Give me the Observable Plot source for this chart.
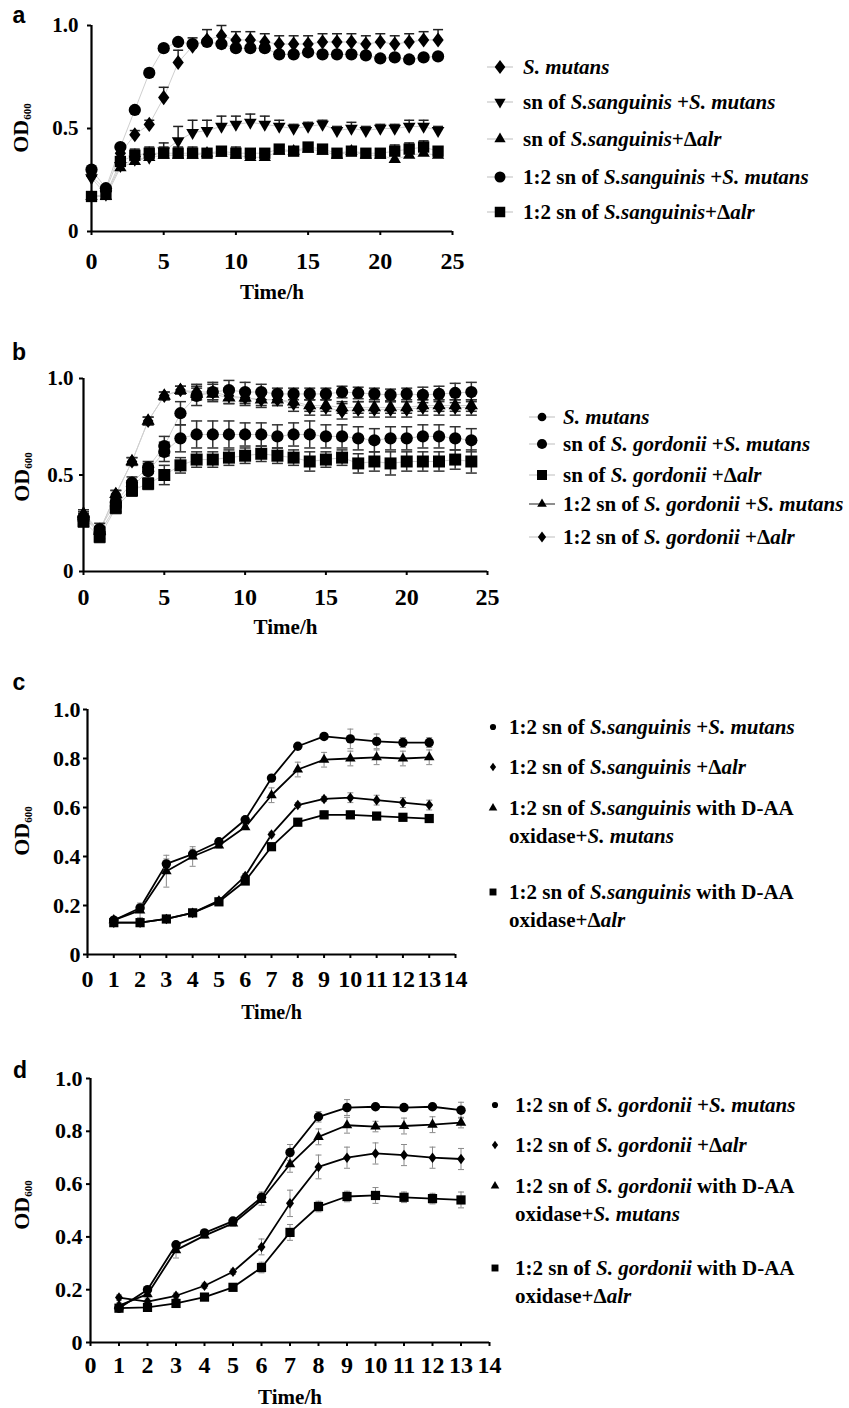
<!DOCTYPE html>
<html><head><meta charset="utf-8">
<script src="https://cdn.jsdelivr.net/npm/d3@7"></script>
<script src="https://cdn.jsdelivr.net/npm/@observablehq/plot@0.6"></script>
<style>
body{margin:0;background:#fff;}
#root{position:relative;width:849px;height:1408px;font-family:"Liberation Serif","Times New Roman",serif;font-weight:bold;color:#000;overflow:hidden;}
.panel{position:absolute;left:0;}
.letter{position:absolute;font-family:"Liberation Sans",Arial,sans-serif;font-weight:bold;font-size:23px;transform:translate(-50%,-50%);line-height:1;}
.ylab{position:absolute;transform:translate(-50%,-50%) rotate(-90deg);font-size:22px;white-space:nowrap;line-height:1;}
.ylab sub{font-size:11px;vertical-align:-3px;}
.legtext{position:absolute;white-space:nowrap;}
.legmark{position:absolute;}
</style></head><body><div id="root"></div>
<script>
// ---------- data ----------
const hoursAB = [0,1,2,3,4,5,6,7,8,9,10,11,12,13,14,15,16,17,18,19,20,21,22,23,24];
const hoursCD = [1,2,3,4,5,6,7,8,9,10,11,12,13];

// panel a
const aSmutans      = [0.27,0.20,0.38,0.47,0.52,0.65,0.82,0.90,0.93,0.95,0.93,0.93,0.92,0.91,0.91,0.91,0.92,0.92,0.92,0.91,0.92,0.91,0.92,0.93,0.93];
const aSmutansErr   = [0.02,0.02,0.02,0.02,0.02,0.05,0.06,0.04,0.05,0.05,0.04,0.04,0.04,0.04,0.04,0.04,0.04,0.04,0.04,0.04,0.04,0.04,0.04,0.04,0.05];
const aSnSm         = [0.26,0.18,0.32,0.35,0.36,0.39,0.44,0.48,0.49,0.51,0.52,0.53,0.52,0.51,0.50,0.51,0.52,0.49,0.50,0.49,0.50,0.50,0.51,0.51,0.49];
const aSnSmErr      = [0.02,0.02,0.02,0.03,0.03,0.04,0.07,0.06,0.05,0.05,0.04,0.04,0.04,0.03,0.02,0.02,0.02,0.02,0.03,0.02,0.02,0.02,0.03,0.03,0.02];
const aSnAlr        = [0.17,0.17,0.31,0.34,0.36,0.37,0.37,0.37,0.38,0.38,0.37,0.36,0.36,0.39,0.39,0.40,0.39,0.37,0.39,0.37,0.37,0.35,0.37,0.38,0.37];
const aSnAlrErr     = [0.02,0.02,0.02,0.02,0.02,0.02,0.02,0.02,0.02,0.02,0.02,0.02,0.02,0.02,0.02,0.02,0.02,0.02,0.02,0.02,0.02,0.02,0.02,0.02,0.02];
const a12Sm         = [0.30,0.21,0.41,0.59,0.77,0.89,0.92,0.91,0.92,0.91,0.89,0.89,0.89,0.86,0.86,0.87,0.86,0.86,0.86,0.855,0.84,0.845,0.835,0.845,0.85];
const a12SmErr      = [0.01,0.01,0.01,0.01,0.01,0.01,0.01,0.01,0.01,0.01,0.01,0.01,0.01,0.01,0.01,0.01,0.01,0.01,0.01,0.01,0.01,0.01,0.01,0.01,0.01];
const a12Alr        = [0.17,0.18,0.34,0.37,0.38,0.38,0.38,0.38,0.38,0.39,0.38,0.38,0.38,0.40,0.39,0.41,0.40,0.38,0.39,0.38,0.38,0.39,0.40,0.41,0.39];
const a12AlrErr     = [0.02,0.02,0.02,0.03,0.03,0.03,0.03,0.03,0.02,0.02,0.03,0.02,0.02,0.02,0.02,0.02,0.02,0.02,0.02,0.02,0.02,0.03,0.03,0.03,0.02];

// panel b
const bSmutans      = [0.27,0.22,0.36,0.46,0.54,0.65,0.82,0.91,0.93,0.94,0.93,0.93,0.92,0.92,0.92,0.92,0.93,0.925,0.92,0.915,0.92,0.915,0.92,0.925,0.93];
const bSmutansErr   = [0.03,0.03,0.03,0.03,0.03,0.05,0.06,0.05,0.05,0.05,0.05,0.04,0.03,0.03,0.03,0.03,0.03,0.03,0.03,0.03,0.03,0.04,0.04,0.05,0.05];
const bSnSm         = [0.28,0.20,0.34,0.44,0.52,0.62,0.69,0.71,0.71,0.71,0.71,0.71,0.70,0.71,0.71,0.70,0.70,0.69,0.68,0.69,0.69,0.70,0.70,0.69,0.68];
const bSnSmErr      = [0.03,0.03,0.03,0.03,0.04,0.05,0.07,0.07,0.07,0.07,0.06,0.06,0.06,0.06,0.07,0.06,0.06,0.06,0.06,0.06,0.06,0.06,0.06,0.06,0.06];
const bSnAlr        = [0.26,0.18,0.33,0.42,0.455,0.50,0.55,0.58,0.58,0.59,0.60,0.61,0.60,0.59,0.57,0.58,0.59,0.56,0.57,0.56,0.57,0.57,0.57,0.58,0.57];
const bSnAlrErr     = [0.03,0.03,0.03,0.03,0.03,0.05,0.04,0.04,0.04,0.04,0.04,0.04,0.04,0.04,0.05,0.04,0.04,0.05,0.05,0.06,0.05,0.05,0.05,0.05,0.06];
const b12Sm         = [0.30,0.21,0.40,0.57,0.78,0.91,0.94,0.92,0.92,0.90,0.90,0.89,0.89,0.88,0.86,0.86,0.85,0.85,0.85,0.85,0.85,0.86,0.86,0.86,0.86];
const b12SmErr      = [0.02,0.02,0.02,0.02,0.02,0.02,0.02,0.03,0.03,0.03,0.03,0.03,0.03,0.03,0.03,0.03,0.03,0.03,0.03,0.03,0.03,0.03,0.03,0.03,0.03];
const b12Alr        = [0.29,0.21,0.40,0.57,0.78,0.91,0.94,0.93,0.93,0.91,0.90,0.89,0.89,0.87,0.85,0.85,0.83,0.84,0.84,0.84,0.84,0.85,0.85,0.85,0.85];
const b12AlrErr     = [0.02,0.02,0.02,0.02,0.02,0.02,0.02,0.04,0.04,0.04,0.04,0.04,0.03,0.04,0.04,0.04,0.04,0.04,0.04,0.04,0.04,0.04,0.04,0.04,0.04];

// panel c
const cSm       = [0.14,0.19,0.37,0.41,0.46,0.55,0.72,0.85,0.89,0.88,0.87,0.865,0.865];
const cSmErr    = [0.01,0.01,0.02,0.02,0.01,0.01,0.01,0.01,0.01,0.04,0.03,0.02,0.02];
const cAlr      = [0.13,0.13,0.145,0.17,0.22,0.32,0.49,0.61,0.635,0.64,0.63,0.62,0.61];
const cAlrErr   = [0.01,0.01,0.01,0.01,0.01,0.01,0.01,0.01,0.01,0.02,0.02,0.02,0.02];
const cOxSm     = [0.14,0.18,0.34,0.40,0.445,0.52,0.65,0.755,0.795,0.80,0.805,0.80,0.805];
const cOxSmErr  = [0.01,0.03,0.065,0.04,0.01,0.01,0.03,0.03,0.03,0.03,0.03,0.03,0.03];
const cOxAlr    = [0.13,0.13,0.145,0.17,0.215,0.30,0.44,0.54,0.57,0.57,0.565,0.56,0.555];
const cOxAlrErr = [0.01,0.01,0.01,0.01,0.01,0.01,0.01,0.01,0.015,0.015,0.01,0.01,0.01];

// panel d
const dSm       = [0.13,0.20,0.37,0.415,0.46,0.55,0.72,0.855,0.89,0.893,0.89,0.893,0.88];
const dSmErr    = [0.01,0.01,0.01,0.01,0.01,0.02,0.03,0.02,0.03,0.01,0.01,0.01,0.03];
const dAlr      = [0.17,0.155,0.177,0.215,0.268,0.362,0.527,0.665,0.70,0.716,0.71,0.70,0.695];
const dAlrErr   = [0.01,0.01,0.01,0.01,0.01,0.03,0.05,0.045,0.04,0.04,0.04,0.04,0.04];
const dOxSm     = [0.14,0.183,0.35,0.405,0.451,0.54,0.675,0.779,0.823,0.818,0.82,0.825,0.833];
const dOxSmErr  = [0.01,0.01,0.03,0.01,0.01,0.02,0.03,0.03,0.03,0.02,0.03,0.03,0.02];
const dOxAlr    = [0.13,0.133,0.148,0.172,0.209,0.284,0.417,0.515,0.553,0.557,0.55,0.545,0.54];
const dOxAlrErr = [0.01,0.01,0.01,0.01,0.01,0.02,0.03,0.02,0.02,0.03,0.02,0.02,0.03];

// tick values and labels
const xTicksAB = [0,5,10,15,20,25];
const xTicksCD = [0,1,2,3,4,5,6,7,8,9,10,11,12,13,14];
const yTicksAB = [0,0.5,1];
const yTicksCD = [0,0.2,0.4,0.6,0.8,1];

const legendA = ["<i>S. mutans</i>", "sn of <i>S.sanguinis</i> +<i>S. mutans</i>", "sn of <i>S.sanguinis</i>+Δ<i>alr</i>", "1:2 sn of <i>S.sanguinis</i> +<i>S. mutans</i>", "1:2 sn of <i>S.sanguinis</i>+Δ<i>alr</i>"];
const legendB = ["<i>S. mutans</i>", "sn of <i>S. gordonii</i> +<i>S. mutans</i>", "sn of <i>S. gordonii</i> +Δ<i>alr</i>", "1:2 sn of <i>S. gordonii</i> +<i>S. mutans</i>", "1:2 sn of <i>S. gordonii</i> +Δ<i>alr</i>"];
const legendC = ["1:2 sn of <i>S.sanguinis</i> +<i>S. mutans</i>", "1:2 sn of <i>S.sanguinis</i> +Δ<i>alr</i>", "1:2 sn of <i>S.sanguinis</i> with D-AA<br>oxidase+<i>S. mutans</i>", "1:2 sn of <i>S.sanguinis</i> with D-AA<br>oxidase+Δ<i>alr</i>"];
const legendD = ["1:2 sn of <i>S. gordonii</i> +<i>S. mutans</i>", "1:2 sn of <i>S. gordonii</i> +Δ<i>alr</i>", "1:2 sn of <i>S. gordonii</i> with D-AA<br>oxidase+<i>S. mutans</i>", "1:2 sn of <i>S. gordonii</i> with D-AA<br>oxidase+Δ<i>alr</i>"];

// ---------- symbols ----------
const S3 = Math.sqrt(3);
const symDown = {draw(ctx, size){ const y = Math.sqrt(size/(3*S3)); ctx.moveTo(0, 2*y); ctx.lineTo(S3*y, -y); ctx.lineTo(-S3*y, -y); ctx.closePath(); }};
const symUp = {draw(ctx, size){ const y = Math.sqrt(size/(3*S3)); ctx.moveTo(0, -2*y); ctx.lineTo(S3*y, y); ctx.lineTo(-S3*y, y); ctx.closePath(); }};
const symDiamond = {draw(ctx, size){ const h = Math.sqrt(size/1.5), w = 0.75*h; ctx.moveTo(0,-h); ctx.lineTo(w,0); ctx.lineTo(0,h); ctx.lineTo(-w,0); ctx.closePath(); }};
const symCircle = d3.symbolCircle;
const symSquare = d3.symbolSquare;
const symCap = {draw(ctx, size){ const w = Math.sqrt(size/Math.PI); ctx.moveTo(-w,0); ctx.lineTo(w,0); }};

const root = document.getElementById("root");

function makePanel(cfg){
  const rows = [];
  cfg.series.forEach((s,i) => s.values.forEach((v,j) => rows.push({s:i, x:cfg.hours[j], y:v, e:s.err[j]})));
  const marks = [];
  marks.push(Plot.line(rows, {x:"x", y:"y", z:"s", stroke:cfg.lineColor, strokeWidth:cfg.lineWidth}));
  marks.push(Plot.ruleX(rows, {x:"x", y1: d => cfg.upOnly ? d.y : d.y - d.e, y2: d => d.y + d.e, stroke:cfg.errColor, strokeWidth:cfg.errWidth}));
  marks.push(Plot.dot(rows, {x:"x", y: d => d.y + d.e, symbol:symCap, r:cfg.capR, stroke:cfg.errColor, strokeWidth:cfg.errWidth, fill:"none"}));
  if (!cfg.upOnly) marks.push(Plot.dot(rows, {x:"x", y: d => d.y - d.e, symbol:symCap, r:cfg.capR, stroke:cfg.errColor, strokeWidth:cfg.errWidth, fill:"none"}));
  cfg.series.forEach((s,i) => marks.push(Plot.dot(rows.filter(r => r.s === i), {x:"x", y:"y", symbol:s.sym, r:Math.sqrt(s.size/Math.PI), fill:"#000", stroke:"none"})));
  marks.push(Plot.ruleX([cfg.xDomain[0]], {stroke:"#000", strokeWidth:2.2}));
  marks.push(Plot.ruleY([0], {stroke:"#000", strokeWidth:2.2}));
  marks.push(Plot.axisX({ticks:cfg.xTicks, tickSize:4, tickPadding:cfg.xPad, fontSize:cfg.xFont, strokeWidth:2, tickFormat:d => String(d), label:null}));
  marks.push(Plot.axisY({ticks:cfg.yTicks, tickSize:4, tickPadding:cfg.yPad, fontSize:cfg.yFont, strokeWidth:2, tickFormat:d => d === 0 ? "0" : d.toFixed(1), label:null}));
  marks.push(Plot.text(["Time/h"], {frameAnchor:"bottom", dy:cfg.timeDy, fontSize:cfg.timeFont, fontWeight:"bold"}));
  const svg = Plot.plot({
    width:cfg.width, height:cfg.height,
    marginTop:cfg.mt, marginBottom:cfg.mb, marginLeft:cfg.ml, marginRight:cfg.mr,
    x:{domain:cfg.xDomain}, y:{domain:[0,1]},
    style:{fontFamily:"'Liberation Serif','Times New Roman',serif", fontWeight:"bold", fontSize:"20px", background:"none", color:"#000", overflow:"visible"},
    marks
  });
  const wrap = document.createElement("div");
  wrap.className = "panel";
  wrap.style.top = cfg.top + "px";
  wrap.appendChild(svg);
  root.appendChild(wrap);

  const L = document.createElement("div");
  L.className = "letter"; L.textContent = cfg.letter;
  L.style.left = cfg.letterPos[0] + "px"; L.style.top = cfg.letterPos[1] + "px";
  root.appendChild(L);
  const Y = document.createElement("div");
  Y.className = "ylab"; Y.innerHTML = "OD<sub>600</sub>";
  Y.style.left = cfg.ylabPos[0] + "px"; Y.style.top = cfg.ylabPos[1] + "px";
  root.appendChild(Y);

  const lg = cfg.legend;
  lg.labels.forEach((html, i) => {
    const s = cfg.series[i];
    const cy = lg.ys[i];
    const m = d3.create("svg").attr("width", 30).attr("height", 20).attr("class", "legmark")
      .style("left", (lg.mx - 15) + "px").style("top", (cy - 10) + "px");
    if (lg.stub) m.append("line").attr("x1", 2).attr("x2", 28).attr("y1", 10).attr("y2", 10)
      .attr("stroke", (lg.stubDark && lg.stubDark[i]) ? "#444" : "#c8c8c8").attr("stroke-width", 1.2);
    m.append("path").attr("transform", "translate(15,10)").attr("d", d3.symbol(s.sym, lg.sizes[i])()).attr("fill", "#000");
    root.appendChild(m.node());
    const t = document.createElement("div");
    t.className = "legtext"; t.innerHTML = html;
    t.style.left = lg.tx + "px";
    t.style.top = (cy - lg.lh/2) + "px";
    t.style.fontSize = lg.font + "px";
    t.style.lineHeight = lg.lh + "px";
    root.appendChild(t);
  });
}

makePanel({
  letter:"a", letterPos:[19,15], ylabPos:[21,128], top:0,
  width:480, height:310, mt:25, mb:79, ml:91, mr:28,
  xDomain:[0,25], hours:hoursAB, xTicks:xTicksAB, yTicks:yTicksAB,
  xPad:16, yPad:9, xFont:24, yFont:21, timeDy:67, timeFont:21,
  lineColor:"#cfcfcf", lineWidth:1, errColor:"#222", errWidth:1.5, capR:5, upOnly:true,
  series:[
    {values:aSmutans, err:aSmutansErr, sym:symDiamond, size:85},
    {values:aSnSm, err:aSnSmErr, sym:symDown, size:70},
    {values:aSnAlr, err:aSnAlrErr, sym:symUp, size:66},
    {values:a12Sm, err:a12SmErr, sym:symCircle, size:118},
    {values:a12Alr, err:a12AlrErr, sym:symSquare, size:128}
  ],
  legend:{labels:legendA, mx:500, tx:523, ys:[67,102,139,177,212], font:21, lh:24, stub:true, sizes:[75,55,55,95,110]}
});

makePanel({
  letter:"b", letterPos:[19,352], ylabPos:[22,477], top:330,
  width:520, height:320, mt:48, mb:79, ml:83, mr:33,
  xDomain:[0,25], hours:hoursAB, xTicks:xTicksAB, yTicks:yTicksAB,
  xPad:12, yPad:6, xFont:24, yFont:21, timeDy:62, timeFont:21,
  lineColor:"#cfcfcf", lineWidth:1, errColor:"#333", errWidth:1.5, capR:5.5, upOnly:false,
  series:[
    {values:bSmutans, err:bSmutansErr, sym:symCircle, size:118},
    {values:bSnSm, err:bSnSmErr, sym:symCircle, size:118},
    {values:bSnAlr, err:bSnAlrErr, sym:symSquare, size:144},
    {values:b12Sm, err:b12SmErr, sym:symUp, size:76},
    {values:b12Alr, err:b12AlrErr, sym:symDiamond, size:75}
  ],
  legend:{labels:legendB, mx:542, tx:563, ys:[417,444,475,504,537], font:21, lh:24, stub:true, stubDark:[false,false,false,true,false], sizes:[60,80,100,40,45]}
});

makePanel({
  letter:"c", letterPos:[19,682], ylabPos:[22,831], top:680,
  width:480, height:350, mt:29, mb:76, ml:87, mr:25,
  xDomain:[0,14], hours:hoursCD, xTicks:xTicksCD, yTicks:yTicksCD,
  xPad:11, yPad:3, xFont:24, yFont:22, timeDy:64, timeFont:20,
  lineColor:"#000", lineWidth:1.8, errColor:"#8a8a8a", errWidth:1, capR:3, upOnly:false,
  series:[
    {values:cSm, err:cSmErr, sym:symCircle, size:70},
    {values:cAlr, err:cAlrErr, sym:symDiamond, size:42},
    {values:cOxSm, err:cOxSmErr, sym:symUp, size:48},
    {values:cOxAlr, err:cOxAlrErr, sym:symSquare, size:85}
  ],
  legend:{labels:legendC, mx:493, tx:509, ys:[727,767,808,892], font:21, lh:28, stub:false, sizes:[30,26,32,48]}
});

makePanel({
  letter:"d", letterPos:[20,1070], ylabPos:[22,1205], top:1040,
  width:520, height:368, mt:38, mb:66, ml:90, mr:31,
  xDomain:[0,14], hours:hoursCD, xTicks:xTicksCD, yTicks:yTicksCD,
  xPad:9, yPad:4, xFont:24, yFont:22, timeDy:61, timeFont:21,
  lineColor:"#000", lineWidth:1.8, errColor:"#8a8a8a", errWidth:1, capR:3, upOnly:false,
  series:[
    {values:dSm, err:dSmErr, sym:symCircle, size:70},
    {values:dAlr, err:dAlrErr, sym:symDiamond, size:42},
    {values:dOxSm, err:dOxSmErr, sym:symUp, size:48},
    {values:dOxAlr, err:dOxAlrErr, sym:symSquare, size:85}
  ],
  legend:{labels:legendD, mx:495, tx:515, ys:[1105,1145,1186,1268], font:21, lh:28, stub:false, sizes:[30,26,32,48]}
});
</script></body></html>
